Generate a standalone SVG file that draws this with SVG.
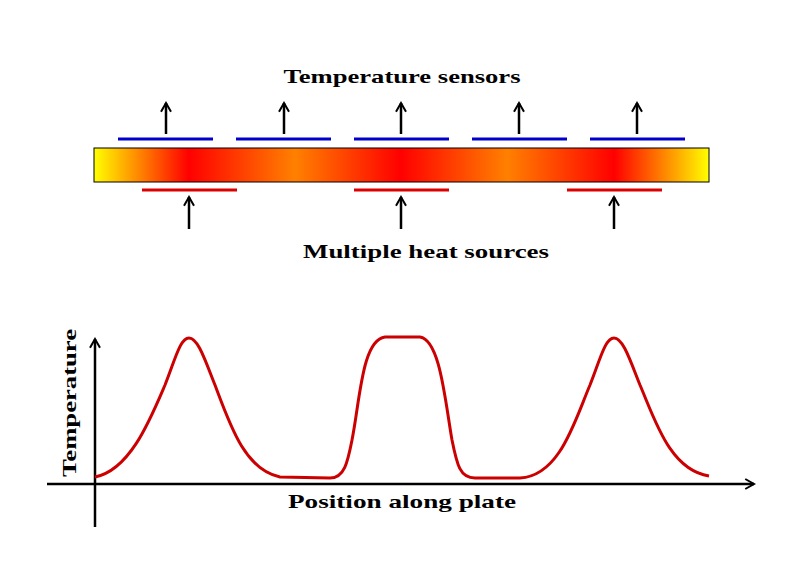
<svg xmlns="http://www.w3.org/2000/svg" width="808" height="586" viewBox="0 0 808 586">
<style>
text{font-family:"Liberation Serif","DejaVu Serif",serif;font-weight:bold;font-size:19px;fill:#000}
.b{stroke:#0000cc;stroke-width:3}
.r{stroke:#dd0000;stroke-width:3}
.ar{stroke:#000;stroke-width:2.5;fill:none;marker-end:url(#a)}
</style>
<defs>
<marker id="a" viewBox="0 0 10 10" refX="8" refY="5" markerWidth="5" markerHeight="5" orient="auto" markerUnits="strokeWidth"><path d="M1,1 L8,5 L1,9" fill="none" stroke="#000" stroke-width="1.6"/></marker>
<linearGradient id="g" x1="0" x2="1" y1="0" y2="0">
<stop offset="0" stop-color="#ffff00"/><stop offset="0.154" stop-color="#ff0000"/><stop offset="0.327" stop-color="#ff8000"/><stop offset="0.499" stop-color="#ff0000"/><stop offset="0.672" stop-color="#ff8000"/><stop offset="0.846" stop-color="#ff0000"/><stop offset="1" stop-color="#ffff00"/>
</linearGradient>
</defs>
<g id="plate"><rect x="94" y="148" width="615" height="34" fill="url(#g)" stroke="#000" stroke-width="1"/></g>
<g id="sensors">
<line class="b" x1="118" y1="139" x2="213" y2="139"/><line class="b" x1="236" y1="139" x2="331" y2="139"/><line class="b" x1="354" y1="139" x2="449" y2="139"/><line class="b" x1="472" y1="139" x2="567" y2="139"/><line class="b" x1="590" y1="139" x2="685" y2="139"/>
</g>
<g id="sources">
<line class="r" x1="142" y1="190" x2="237" y2="190"/><line class="r" x1="354" y1="190" x2="449" y2="190"/><line class="r" x1="567" y1="190" x2="662" y2="190"/>
</g>
<g id="connectors">
<line class="ar" x1="166" y1="134" x2="166" y2="103"/><line class="ar" x1="284" y1="134" x2="284" y2="103"/><line class="ar" x1="401" y1="134" x2="401" y2="103"/><line class="ar" x1="519" y1="134" x2="519" y2="103"/><line class="ar" x1="637" y1="134" x2="637" y2="103"/>
<line class="ar" x1="189" y1="229" x2="189" y2="197"/><line class="ar" x1="401" y1="229" x2="401" y2="197"/><line class="ar" x1="614" y1="229" x2="614" y2="197"/>
<line class="ar" x1="47" y1="484" x2="754" y2="484"/><line class="ar" x1="95" y1="527" x2="95" y2="339"/>
</g>
<g id="labels">
<text x="402" y="83" text-anchor="middle" textLength="237" lengthAdjust="spacingAndGlyphs">Temperature sensors</text>
<text x="426" y="258" text-anchor="middle" textLength="246" lengthAdjust="spacingAndGlyphs">Multiple heat sources</text>
<text x="402" y="508" text-anchor="middle" textLength="228" lengthAdjust="spacingAndGlyphs">Position along plate</text>
<text transform="translate(76,403) rotate(-90)" text-anchor="middle" textLength="148" lengthAdjust="spacingAndGlyphs">Temperature</text>
</g>
<g id="curve"><path d="M95,477 C130,470 150,420 165,385 C175,360 180,338 189,338 C198,338 205,360 215,385 C230,425 245,470 280,477 L330,478 C345,478 348,460 352,440 C360,400 362,340 385,337 L420,337 C440,340 445,400 452,440 C457,465 460,478 475,478 L520,478 C560,476 575,420 590,385 C600,360 605,338 614,338 C623,338 630,360 640,385 C655,420 670,470 709,476" fill="none" stroke="#cc0000" stroke-width="3"/></g>
</svg>
